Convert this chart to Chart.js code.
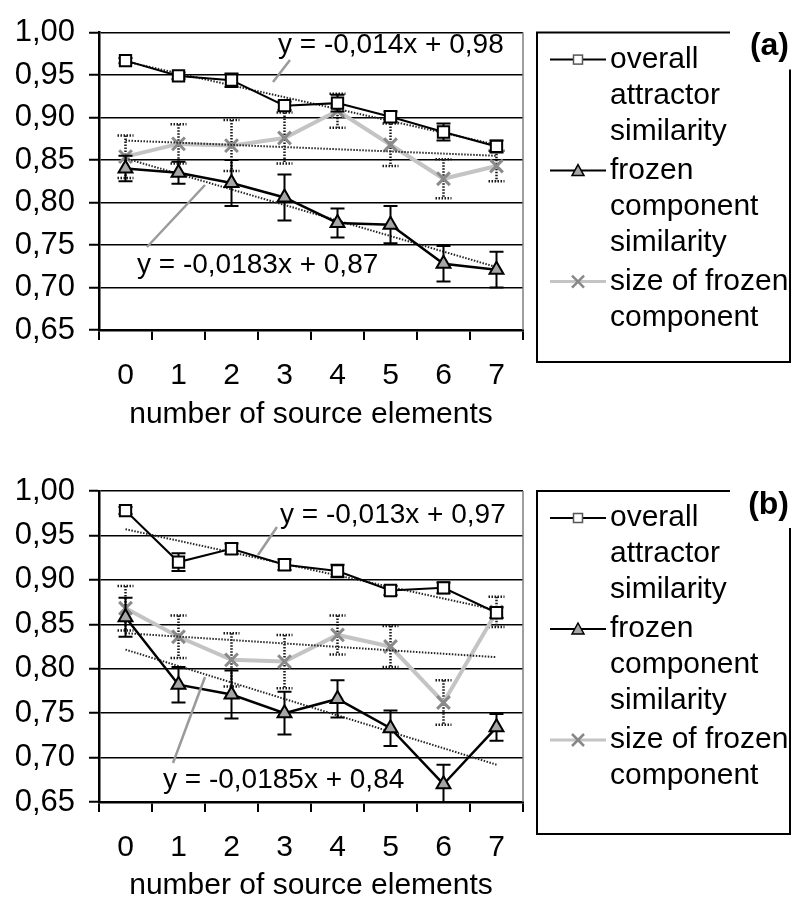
<!DOCTYPE html>
<html>
<head>
<meta charset="utf-8">
<script src="https://cdn.jsdelivr.net/npm/chart.js@4.4.0/dist/chart.umd.min.js"></script>
<style>
  html, body { margin: 0; padding: 0; background: #fff; }
  #wrap { position: relative; width: 793px; height: 901px; }
  canvas { position: absolute; left: 0; }
  #ca { top: 0; }
  #cb { top: 440px; }
</style>
</head>
<body>
<div id="wrap">
  <canvas id="ca" width="793" height="440"></canvas>
  <canvas id="cb" width="793" height="461"></canvas>
</div>
<script>
const FONT = '"Liberation Sans", Arial, sans-serif';
Chart.defaults.font.family = FONT;
Chart.defaults.color = '#000';

// shared axis labels
const categories = ['0', '1', '2', '3', '4', '5', '6', '7'];
const yTickLabels = ['0,65', '0,70', '0,75', '0,80', '0,85', '0,90', '0,95', '1,00'];
const legendLabels = [
  ['overall', 'attractor', 'similarity'],
  ['frozen', 'component', 'similarity'],
  ['size of frozen', 'component']
];

// panel (a)
const overallA    = [0.967, 0.949, 0.944, 0.914, 0.917, 0.901, 0.883, 0.866];
const overallErrA = [0.003, 0.004, 0.008, 0.005, 0.010, 0.006, 0.010, 0.007];
const frozenA     = [0.840, 0.835, 0.823, 0.806, 0.776, 0.774, 0.728, 0.721];
const frozenErrA  = [0.015, 0.013, 0.027, 0.027, 0.017, 0.022, 0.021, 0.021];
const sizeA       = [0.854, 0.869, 0.867, 0.876, 0.908, 0.868, 0.828, 0.843];
const sizeErrA    = [0.025, 0.023, 0.030, 0.030, 0.020, 0.025, 0.023, 0.018];
const trendOverallA = [0.966, 0.868];
const trendFrozenA  = [0.852, 0.724];
const trendSizeA    = [0.873, 0.855];

// panel (b)
const overallB    = [0.978, 0.920, 0.935, 0.917, 0.910, 0.888, 0.891, 0.863];
const overallErrB = [0.004, 0.010, 0.006, 0.006, 0.007, 0.005, 0.006, 0.006];
const frozenB     = [0.858, 0.782, 0.771, 0.750, 0.766, 0.733, 0.670, 0.734];
const frozenErrB  = [0.022, 0.020, 0.027, 0.024, 0.021, 0.020, 0.022, 0.015];
const sizeB       = [0.868, 0.836, 0.810, 0.808, 0.838, 0.825, 0.762, 0.864];
const sizeErrB    = [0.025, 0.024, 0.030, 0.030, 0.022, 0.023, 0.025, 0.017];
const trendOverallB = [0.957, 0.866];
const trendFrozenB  = [0.8215, 0.692];
const trendSizeB    = [0.840, 0.813];

// error bars go under each dataset's own line and markers
const errorBars = {
  id: 'errorBars',
  beforeDatasetDraw(chart, args) {
    const ds = chart.data.datasets[args.index];
    if (!ds.errors) return;
    const ctx = chart.ctx, a = chart.chartArea, y = chart.scales.y;
    ctx.save();
    ctx.beginPath();
    ctx.rect(a.left, a.top - 2, a.right - a.left, a.bottom - a.top + 2);
    ctx.clip();
    ctx.strokeStyle = ds.dottedErrors ? '#1a1a1a' : '#000';
    ctx.lineWidth = ds.dottedErrors ? 2.5 : 2;
    ctx.setLineDash(ds.dottedErrors ? [1.5, 1.5] : []);
    const cap = ds.dottedErrors ? 8 : 7;
    args.meta.data.forEach((pt, i) => {
      const v = ds.data[i], e = ds.errors[i];
      const yt = y.getPixelForValue(v + e), yb = y.getPixelForValue(v - e);
      ctx.beginPath();
      ctx.moveTo(pt.x, yt); ctx.lineTo(pt.x, yb);
      ctx.moveTo(pt.x - cap, yt); ctx.lineTo(pt.x + cap, yt);
      ctx.moveTo(pt.x - cap, yb); ctx.lineTo(pt.x + cap, yb);
      ctx.stroke();
    });
    ctx.restore();
  }
};

function legendMarker(ctx, k, x, y) {
  ctx.setLineDash([]);
  if (k === 0) {
    ctx.fillStyle = '#fff'; ctx.strokeStyle = '#555'; ctx.lineWidth = 1.5;
    ctx.fillRect(x - 4.5, y - 4.5, 9, 9);
    ctx.strokeRect(x - 4.5, y - 4.5, 9, 9);
  } else if (k === 1) {
    ctx.fillStyle = '#a6a6a6'; ctx.strokeStyle = '#000'; ctx.lineWidth = 1.5;
    ctx.beginPath();
    ctx.moveTo(x, y - 6); ctx.lineTo(x + 6, y + 5); ctx.lineTo(x - 6, y + 5); ctx.closePath();
    ctx.fill(); ctx.stroke();
  } else {
    ctx.strokeStyle = '#888'; ctx.lineWidth = 2.5;
    ctx.beginPath();
    ctx.moveTo(x - 6, y - 6); ctx.lineTo(x + 6, y + 6);
    ctx.moveTo(x + 6, y - 6); ctx.lineTo(x - 6, y + 6);
    ctx.stroke();
  }
}

const panelDecor = {
  id: 'panelDecor',
  afterDraw(chart, args, opts) {
    const ctx = chart.ctx, a = chart.chartArea;
    ctx.save();
    // right edge of the plot area
    ctx.strokeStyle = '#7f7f7f'; ctx.lineWidth = 1.5;
    ctx.beginPath(); ctx.moveTo(a.right, a.top); ctx.lineTo(a.right, a.bottom); ctx.stroke();

    // trendline equations with leader lines
    ctx.font = '28px ' + FONT;
    ctx.textBaseline = 'middle'; ctx.textAlign = 'left';
    opts.notes.forEach(n => {
      ctx.strokeStyle = '#9a9a9a'; ctx.lineWidth = 2.5;
      ctx.beginPath(); ctx.moveTo(n.from[0], n.from[1]); ctx.lineTo(n.to[0], n.to[1]); ctx.stroke();
      ctx.fillStyle = '#000';
      ctx.fillText(n.text, n.x, n.y);
    });

    // legend box
    const L = 537, R = 790, T = a.top, B = a.bottom + 32;
    ctx.strokeStyle = '#000'; ctx.lineWidth = 2;
    ctx.beginPath();
    ctx.moveTo(730, T); ctx.lineTo(L, T); ctx.lineTo(L, B); ctx.lineTo(R, B); ctx.lineTo(R, T + 37);
    ctx.stroke();
    ctx.font = 'bold 32px ' + FONT; ctx.textAlign = 'right'; ctx.fillStyle = '#000';
    ctx.fillText(opts.tag, 789, T + 14);

    ctx.font = '30px ' + FONT; ctx.textAlign = 'left';
    let y = T + 27;
    legendLabels.forEach((lines, k) => {
      ctx.strokeStyle = k === 2 ? '#c4c4c4' : '#000';
      ctx.lineWidth = k === 2 ? 3 : 2;
      ctx.beginPath(); ctx.moveTo(550, y); ctx.lineTo(606, y); ctx.stroke();
      legendMarker(ctx, k, 578, y);
      ctx.fillStyle = '#000';
      lines.forEach((t, j) => ctx.fillText(t, 610, y + j * 36));
      y += lines.length * 36 + 3;
    });
    ctx.restore();
  }
};

function trend(t, order) {
  return {
    data: [{ x: categories[0], y: t[0] }, { x: categories[categories.length - 1], y: t[1] }],
    borderColor: '#262626', borderWidth: 2, borderDash: [1.5, 1.5],
    pointRadius: 0, order: order
  };
}

function makeChart(id, p) {
  return new Chart(document.getElementById(id), {
    type: 'line',
    data: {
      labels: categories,
      datasets: [
        { label: 'overall attractor similarity', data: p.overall, errors: p.overallErr,
          borderColor: '#000', borderWidth: 2,
          pointStyle: 'rect', pointRadius: 8, pointBackgroundColor: '#fff',
          pointBorderColor: '#000', pointBorderWidth: 2, order: 0 },
        { label: 'frozen component similarity', data: p.frozen, errors: p.frozenErr,
          borderColor: '#000', borderWidth: 2.5,
          pointStyle: 'triangle', pointRadius: 8, pointBackgroundColor: '#a6a6a6',
          pointBorderColor: '#000', pointBorderWidth: 2, order: 1 },
        { label: 'size of frozen component', data: p.size, errors: p.sizeErr, dottedErrors: true,
          borderColor: '#c4c4c4', borderWidth: 4,
          pointStyle: 'crossRot', pointRadius: 9,
          pointBorderColor: '#8a8a8a', pointBorderWidth: 3, order: 4 },
        trend(p.trendOverall, 3),
        trend(p.trendFrozen, 3),
        trend(p.trendSize, 3)
      ]
    },
    options: {
      responsive: false,
      animation: false,
      devicePixelRatio: 1,
      layout: { padding: { left: 0, right: 270, top: p.top, bottom: p.bottom } },
      plugins: {
        legend: { display: false },
        tooltip: { enabled: false },
        panelDecor: { tag: p.tag, notes: p.notes }
      },
      scales: {
        x: {
          offset: true,
          afterFit(s) { s.height = p.xHeight; },
          grid: { offset: true, drawOnChartArea: false, color: '#000', lineWidth: 2, tickLength: 10 },
          border: { color: '#000', width: 2.5 },
          ticks: { padding: 18, font: { size: 30 }, color: '#000', maxRotation: 0, autoSkip: false },
          title: { display: true, text: 'number of source elements', color: '#000',
                   font: { size: 30, lineHeight: 1 }, padding: 0 }
        },
        y: {
          min: 0.65, max: 1.0,
          afterFit(s) { s.width = 99; },
          ticks: { stepSize: 0.05, padding: 14, font: { size: 31 }, color: '#000',
                   callback: (v, i) => yTickLabels[i] },
          grid: { color: '#000', lineWidth: 1.5, tickLength: 10, tickColor: '#000', tickWidth: 2 },
          border: { color: '#000', width: 2.5 }
        }
      }
    },
    plugins: [errorBars, panelDecor]
  });
}

makeChart('ca', {
  overall: overallA, overallErr: overallErrA,
  frozen: frozenA, frozenErr: frozenErrA,
  size: sizeA, sizeErr: sizeErrA,
  trendOverall: trendOverallA, trendFrozen: trendFrozenA, trendSize: trendSizeA,
  top: 21, bottom: 10, xHeight: 100, tag: '(a)',
  notes: [
    { text: 'y = -0,014x + 0,98', x: 278, y: 45, from: [273, 82], to: [290, 60] },
    { text: 'y = -0,0183x + 0,87', x: 137, y: 265, from: [147, 247], to: [205, 185] }
  ]
});

makeChart('cb', {
  overall: overallB, overallErr: overallErrB,
  frozen: frozenB, frozenErr: frozenErrB,
  size: sizeB, sizeErr: sizeErrB,
  trendOverall: trendOverallB, trendFrozen: trendFrozenB, trendSize: trendSizeB,
  top: 51, bottom: 0, xHeight: 99, tag: '(b)',
  notes: [
    { text: 'y = -0,013x + 0,97', x: 280, y: 75, from: [258, 115], to: [277, 87] },
    { text: 'y = -0,0185x + 0,84', x: 163, y: 340, from: [173, 323], to: [205, 237] }
  ]
});
</script>
</body>
</html>
